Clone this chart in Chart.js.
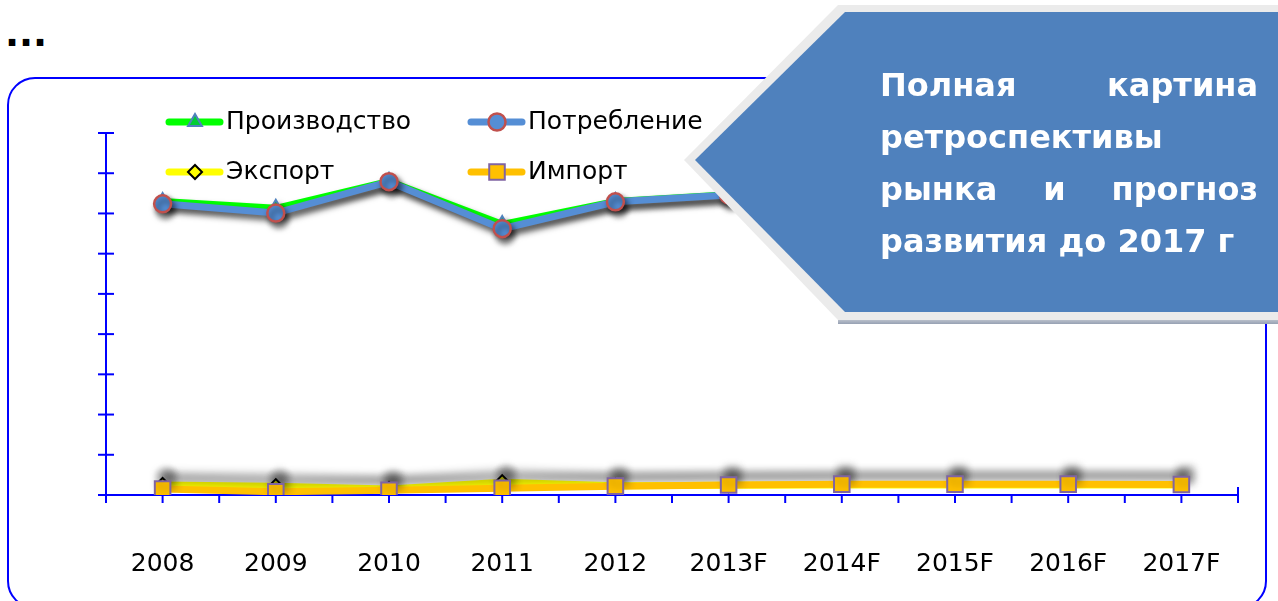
<!DOCTYPE html>
<html lang="ru">
<head>
<meta charset="utf-8">
<title>Рынок: ретроспектива и прогноз</title>
<script src="https://cdn.jsdelivr.net/npm/chart.js@4.4.1/dist/chart.umd.min.js"></script>
<style>
  html, body { margin: 0; padding: 0; background: #fff; }
  body {
    width: 1278px; height: 601px;
    position: relative; overflow: hidden;
    font-family: "DejaVu Sans", sans-serif;
  }
  .dots {
    position: absolute; left: 5px; top: 15px;
    font-weight: bold; font-size: 37px; line-height: 37px; color: #000;
  }
  .frame {
    position: absolute; left: 7px; top: 77px;
    width: 1260px; height: 532px;
    border: 2px solid #0000ff; border-radius: 28px;
    box-sizing: border-box;
  }
  #chart { position: absolute; left: 0; top: 0; }

  /* ── Callout arrow ── */
  .callout-base {
    position: absolute; left: 838px; top: 318px;
    width: 440px; height: 6px;
    background: linear-gradient(#c9ced6, #96a1b3);
  }
  .callout-edge, .callout {
    position: absolute; left: 0; top: 0;
    width: 1278px; height: 330px;
  }
  .callout-edge {
    background: #ebebeb;
    clip-path: polygon(684px 160px, 838px 5px, 1278px 5px, 1278px 320px, 838px 320px);
  }
  .callout {
    background: #4f81bd;
    clip-path: polygon(695px 160px, 845px 12px, 1278px 12px, 1278px 312px, 845px 312px);
  }
  .callout-text {
    position: absolute; left: 880px; top: 59px; width: 378px;
    color: #fff; font-weight: bold; font-size: 32px; line-height: 52px;
  }
  .callout-text div { white-space: nowrap; }
  .callout-text .jt { text-align: justify; text-align-last: justify; white-space: normal; }
</style>
</head>
<body>

<div class="dots">...</div>
<div class="frame"></div>
<canvas id="chart" width="1278" height="601"></canvas>

<div class="callout-base"></div>
<div class="callout-edge"></div>
<div class="callout"></div>
<div class="callout-text">
  <div class="jt">Полная картина</div>
  <div>ретроспективы</div>
  <div class="jt">рынка и прогноз</div>
  <div>развития до 2017 г</div>
</div>

<script>
/* ════════════════════════════════════════════════
   Data
   ════════════════════════════════════════════════ */
const years       = ['2008', '2009', '2010', '2011', '2012', '2013F', '2014F', '2015F', '2016F', '2017F'];
const production  = [73.1, 71.4, 78.1, 67.4, 73.1, 74.8, 76.0, 77.2, 78.4, 79.6];
const consumption = [72.4, 70.1, 77.9, 66.2, 72.9, 74.6, 75.8, 77.0, 78.2, 79.4];
const exports     = [2.5, 2.2, 1.5, 3.2, 2.3, 2.4, 2.5, 2.5, 2.5, 2.5];
const imports     = [1.5, 0.8, 1.2, 1.7, 2.2, 2.5, 2.7, 2.7, 2.7, 2.6];
const yMin  = 0;
const yMax  = 90;
const yStep = 10;

const AXIS = '#0000ff';
const FONT = '"DejaVu Sans", sans-serif';

/* ── Soft drop shadow per dataset ── */
const shadowPlugin = {
  id: 'shadow',
  beforeDatasetDraw(chart, args) {
    const s = chart.data.datasets[args.index].shadow;
    const c = chart.ctx;
    c.save();
    if (!s) return;
    c.shadowColor   = s.color;
    c.shadowBlur    = s.blur;
    c.shadowOffsetX = s.dx;
    c.shadowOffsetY = s.dy;
  },
  afterDatasetDraw(chart) {
    chart.ctx.restore();
  }
};

/* ── Axis lines with crossing tick marks ── */
const axisPlugin = {
  id: 'axisDecor',
  beforeDatasetsDraw(chart) {
    const { ctx: c, scales: { x, y } } = chart;
    const seg = (x1, y1, x2, y2) => { c.beginPath(); c.moveTo(x1, y1); c.lineTo(x2, y2); c.stroke(); };
    c.save();
    c.strokeStyle = AXIS;
    c.lineWidth = 2;

    /* vertical axis + ticks both sides */
    seg(x.left, y.top, x.left, y.bottom + 8);
    y.ticks.forEach((t, i) => {
      const py = y.getPixelForTick(i);
      seg(x.left - 8, py, x.left + 8, py);
    });

    /* horizontal axis */
    seg(x.left - 8, y.bottom, x.right, y.bottom);
    const n = years.length;
    for (let i = 0; i < n; i++) {
      const px = x.getPixelForTick(i);
      seg(px, y.bottom, px, y.bottom + 8);
      if (i > 0) {
        const bx = (px + x.getPixelForTick(i - 1)) / 2;
        seg(bx, y.bottom, bx, y.bottom + 8);
      }
    }
    seg(x.right, y.bottom - 8, x.right, y.bottom + 8);
    c.restore();
  }
};

/* ── Legend: line swatch with marker, 2 x 2 grid ── */
const legendPlugin = {
  id: 'lineLegend',
  afterDatasetsDraw(chart) {
    const c = chart.ctx;
    const spots = [[166, 122], [468, 122], [166, 172], [468, 172]];
    c.save();
    chart.data.datasets.forEach((ds, i) => {
      const [lx, ly] = spots[i];
      c.strokeStyle = ds.borderColor;
      c.lineWidth = 7;
      c.lineCap = 'round';
      c.beginPath(); c.moveTo(lx + 3, ly); c.lineTo(lx + 54, ly); c.stroke();

      c.fillStyle   = ds.pointBackgroundColor;
      c.strokeStyle = ds.pointBorderColor;
      c.lineWidth   = ds.pointBorderWidth;
      Chart.helpers.drawPoint(c, {
        pointStyle: ds.pointStyle, radius: ds.pointRadius,
        borderWidth: ds.pointBorderWidth, rotation: 0
      }, lx + 29, ly);

      c.fillStyle = '#000';
      c.font = `25px ${FONT}`;
      c.textBaseline = 'middle';
      c.textAlign = 'left';
      c.fillText(ds.label, lx + 60, ly);
    });
    c.restore();
  }
};

const TOP_SHADOW = { color: 'rgba(0,0,0,0.6)', blur: 6, dx: 3, dy: 5 };
const LOW_SHADOW = { color: 'rgba(0,0,0,0.3)', blur: 9, dx: 4, dy: -9 };

new Chart(document.getElementById('chart'), {
  type: 'line',
  data: {
    labels: years,
    datasets: [
      {
        label: 'Производство',
        data: production,
        borderColor: '#00ff00',
        borderWidth: 6,
        pointStyle: 'triangle',
        pointRadius: 8,
        pointBackgroundColor: '#00cc33',
        pointBorderColor: '#4f81bd',
        pointBorderWidth: 2,
        order: 4,
        shadow: TOP_SHADOW
      },
      {
        label: 'Потребление',
        data: consumption,
        borderColor: '#558ed5',
        borderWidth: 7,
        pointStyle: 'circle',
        pointRadius: 8.5,
        pointBackgroundColor: '#558ed5',
        pointBorderColor: '#c0504d',
        pointBorderWidth: 2.5,
        order: 3,
        shadow: TOP_SHADOW
      },
      {
        label: 'Экспорт',
        data: exports,
        borderColor: '#ffff00',
        borderWidth: 7,
        pointStyle: 'rectRot',
        pointRadius: 7,
        pointBackgroundColor: '#ffff00',
        pointBorderColor: '#000000',
        pointBorderWidth: 2,
        order: 2,
        shadow: LOW_SHADOW
      },
      {
        label: 'Импорт',
        data: imports,
        borderColor: '#ffc000',
        borderWidth: 7,
        pointStyle: 'rect',
        pointRadius: 11,
        pointBackgroundColor: '#ffc000',
        pointBorderColor: '#8064a2',
        pointBorderWidth: 2,
        order: 1,
        shadow: LOW_SHADOW
      }
    ]
  },
  options: {
    responsive: false,
    animation: false,
    layout: { padding: { left: 106, right: 40, top: 133, bottom: 0 } },
    elements: { line: { tension: 0 } },
    plugins: { legend: { display: false }, tooltip: { enabled: false } },
    scales: {
      x: {
        offset: true,
        grid: { display: false, drawTicks: false },
        border: { display: false },
        ticks: { color: '#000', font: { family: FONT, size: 25 }, padding: 54, maxRotation: 0 },
        afterFit: s => { s.height = 106; }
      },
      y: {
        min: yMin, max: yMax,
        grid: { display: false, drawTicks: false },
        border: { display: false },
        ticks: { display: false, stepSize: yStep },
        afterFit: s => { s.width = 0; }
      }
    }
  },
  plugins: [shadowPlugin, axisPlugin, legendPlugin]
});
</script>
</body>
</html>
